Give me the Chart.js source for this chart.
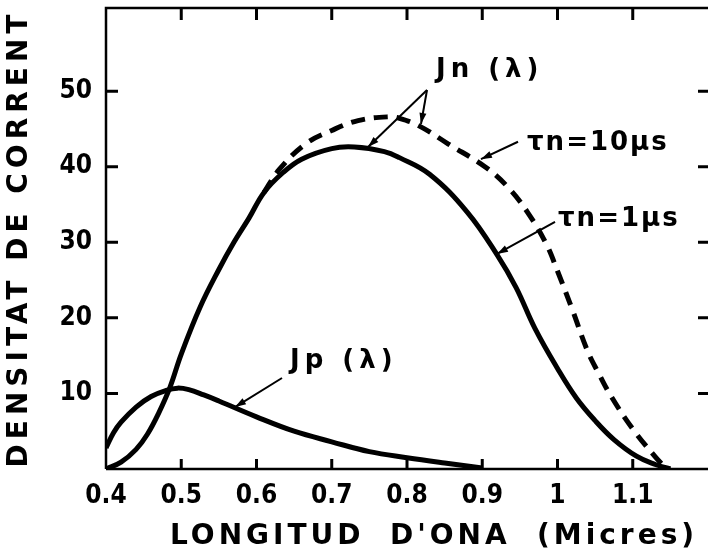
<!DOCTYPE html>
<html>
<head>
<meta charset="utf-8">
<script src="https://cdn.jsdelivr.net/npm/chart.js@4.4.1/dist/chart.umd.min.js"></script>
<style>
	body { margin: 0; background: #fff; overflow: hidden; }
	canvas { display: block; }
</style>
</head>
<body>
<canvas id="chart" width="708" height="554"></canvas>
<script>
// Jp(lambda) - holes
const jpLambda = [0.40, 0.41, 0.42, 0.44, 0.46, 0.48, 0.495, 0.51, 0.53, 0.55, 0.60, 0.65, 0.70, 0.75, 0.80, 0.85, 0.90];
const jpValues = [2.8, 4.8, 6.2, 8.2, 9.6, 10.4, 10.7, 10.5, 9.8, 9.0, 6.9, 5.0, 3.6, 2.3, 1.5, 0.8, 0.15];

// Jn(lambda), tau n = 1 us
const jn1Lambda = [0.40, 0.42, 0.44, 0.455, 0.47, 0.485, 0.50, 0.525, 0.55, 0.57, 0.59, 0.61, 0.635, 0.66, 0.70, 0.73, 0.77, 0.79, 0.83, 0.88, 0.92, 0.945, 0.97, 1.00, 1.025, 1.05, 1.075, 1.105, 1.13, 1.15];
const jn1Values = [0, 0.9, 2.6, 4.6, 7.4, 10.8, 15.2, 21.4, 26.4, 30.0, 33.2, 36.6, 39.2, 41.0, 42.4, 42.6, 42.0, 41.2, 39.0, 34.0, 28.3, 24.0, 18.6, 13.3, 9.4, 6.4, 3.9, 1.7, 0.6, 0];

// Jn(lambda), tau n = 10 us (only where it leaves the 1 us curve)
const jn10Lambda = [0.61, 0.63, 0.665, 0.70, 0.735, 0.775, 0.79, 0.816, 0.855, 0.905, 0.935, 0.96, 0.985, 1.00, 1.02, 1.04, 1.055, 1.072, 1.10, 1.13, 1.145];
const jn10Values = [36.6, 39.6, 43.0, 44.8, 46.1, 46.6, 46.4, 45.4, 43.0, 39.9, 37.2, 34.0, 29.8, 26.2, 21.0, 15.6, 12.6, 9.5, 5.3, 1.6, 0];

const xTicks = [0.4, 0.5, 0.6, 0.7, 0.8, 0.9, 1, 1.1];
const yTicks = [10, 20, 30, 40, 50];

// labels on the plot, placed in data units
const notes = [
	{ text: "Jn (λ)", x: 0.8385, y: 52.7 },
	{ text: "τn=10μs", x: 0.9595, y: 43.1 },
	{ text: "τn=1μs", x: 1.0007, y: 33.0 },
	{ text: "Jp (λ)", x: 0.6445, y: 14.2 },
];
const arrows = [
	[0.8266, 50.15, 0.7482, 42.6],
	[0.8266, 50.15, 0.8186, 45.65],
	[0.9475, 43.3, 0.8983, 41.0],
	[0.9967, 32.7, 0.9196, 28.45],
	[0.6339, 12.04, 0.5714, 8.2],
];

const fontName = '"DejaVu Sans", sans-serif';
const tickFont = '"DejaVu Sans Condensed", "DejaVu Sans", sans-serif';

function points(xs, ys) {
	return xs.map((x, i) => ({ x: x, y: ys[i] }));
}

const drawing = {
	id: "drawing",
	afterDraw(chart) {
		const ctx = chart.ctx;
		const a = chart.chartArea;
		const x = chart.scales.x;
		const y = chart.scales.y;
		ctx.save();
		ctx.strokeStyle = "#000";
		ctx.fillStyle = "#000";
		ctx.lineCap = "butt";

		// frame and inward ticks
		ctx.lineWidth = 2.5;
		ctx.beginPath();
		ctx.moveTo(a.left, a.bottom);
		ctx.lineTo(a.left, a.top);
		ctx.lineTo(a.right, a.top);
		ctx.moveTo(a.left, a.bottom);
		ctx.lineTo(a.right, a.bottom);
		ctx.stroke();
		ctx.lineWidth = 3;
		ctx.beginPath();
		xTicks.slice(1).forEach((v) => {
			const px = x.getPixelForValue(v);
			ctx.moveTo(px, a.bottom);
			ctx.lineTo(px, a.bottom - 10);
			ctx.moveTo(px, a.top);
			ctx.lineTo(px, a.top + 12);
		});
		yTicks.forEach((v) => {
			const py = y.getPixelForValue(v);
			ctx.moveTo(a.left, py);
			ctx.lineTo(a.left + 12, py);
			ctx.moveTo(a.right, py);
			ctx.lineTo(a.right - 10, py);
		});
		ctx.stroke();

		// arrows
		ctx.lineWidth = 2;
		arrows.forEach((ar) => {
			const x1 = x.getPixelForValue(ar[0]);
			const y1 = y.getPixelForValue(ar[1]);
			const x2 = x.getPixelForValue(ar[2]);
			const y2 = y.getPixelForValue(ar[3]);
			const ang = Math.atan2(y2 - y1, x2 - x1);
			ctx.beginPath();
			ctx.moveTo(x1, y1);
			ctx.lineTo(x2, y2);
			ctx.stroke();
			ctx.beginPath();
			ctx.moveTo(x2, y2);
			ctx.lineTo(x2 - 11 * Math.cos(ang) + 3.5 * Math.sin(ang), y2 - 11 * Math.sin(ang) - 3.5 * Math.cos(ang));
			ctx.lineTo(x2 - 11 * Math.cos(ang) - 3.5 * Math.sin(ang), y2 - 11 * Math.sin(ang) + 3.5 * Math.cos(ang));
			ctx.closePath();
			ctx.fill();
		});

		// curve labels
		ctx.font = "bold 26px " + fontName;
		ctx.textBaseline = "middle";
		ctx.textAlign = "left";
		notes.forEach((n) => {
			ctx.letterSpacing = n.text.startsWith("J") ? "5px" : "2px";
			ctx.fillText(n.text, x.getPixelForValue(n.x), y.getPixelForValue(n.y));
		});

		// axis titles
		ctx.font = "bold 28px " + fontName;
		ctx.letterSpacing = "4px";
		ctx.textAlign = "left";
		ctx.fillText("LONGITUD", 170, 537);
		ctx.fillText("D'ONA", 390, 537);
		ctx.fillText("(Micres)", 537, 537);

		ctx.translate(20, (a.top + a.bottom) / 2);
		ctx.rotate(-Math.PI / 2);
		ctx.textAlign = "center";
		ctx.letterSpacing = "5px";
		ctx.fillText("DENSITAT DE CORRENT", 0, 0);
		ctx.restore();
	},
};

new Chart(document.getElementById("chart"), {
	type: "line",
	data: {
		datasets: [
			{
				label: "Jp",
				data: points(jpLambda, jpValues),
				borderColor: "#000",
				borderWidth: 5,
			},
			{
				label: "Jn 1us",
				data: points(jn1Lambda, jn1Values),
				borderColor: "#000",
				borderWidth: 5,
			},
			{
				label: "Jn 10us",
				data: points(jn10Lambda, jn10Values),
				borderColor: "#000",
				borderWidth: 5,
				borderDash: [14, 9],
			},
		],
	},
	options: {
		responsive: false,
		animation: false,
		layout: { padding: { top: 8, right: 0, left: 0, bottom: 0 } },
		elements: {
			point: { radius: 0 },
			line: { tension: 0.4, fill: false },
		},
		plugins: {
			legend: { display: false },
			tooltip: { enabled: false },
		},
		scales: {
			x: {
				type: "linear",
				min: 0.4,
				max: 1.2,
				afterFit: (s) => {
					s.height = 85;
					s.paddingLeft = 0;
					s.paddingRight = 0;
				},
				afterBuildTicks: (s) => { s.ticks = xTicks.map((v) => ({ value: v })); },
				grid: { display: false, drawTicks: false },
				border: { display: false },
				ticks: {
					autoSkip: false,
					maxRotation: 0,
					padding: 12,
					color: "#000",
					font: { family: tickFont, size: 26, weight: "bold" },
					callback: (v) => String(v),
				},
			},
			y: {
				min: 0,
				max: 61,
				afterFit: (s) => {
					s.width = 106;
					s.paddingTop = 0;
					s.paddingBottom = 0;
				},
				afterBuildTicks: (s) => { s.ticks = yTicks.map((v) => ({ value: v })); },
				grid: { display: false, drawTicks: false },
				border: { display: false },
				ticks: {
					padding: 14,
					color: "#000",
					font: { family: tickFont, size: 26, weight: "bold" },
				},
			},
		},
	},
	plugins: [drawing],
});
</script>
</body>
</html>
